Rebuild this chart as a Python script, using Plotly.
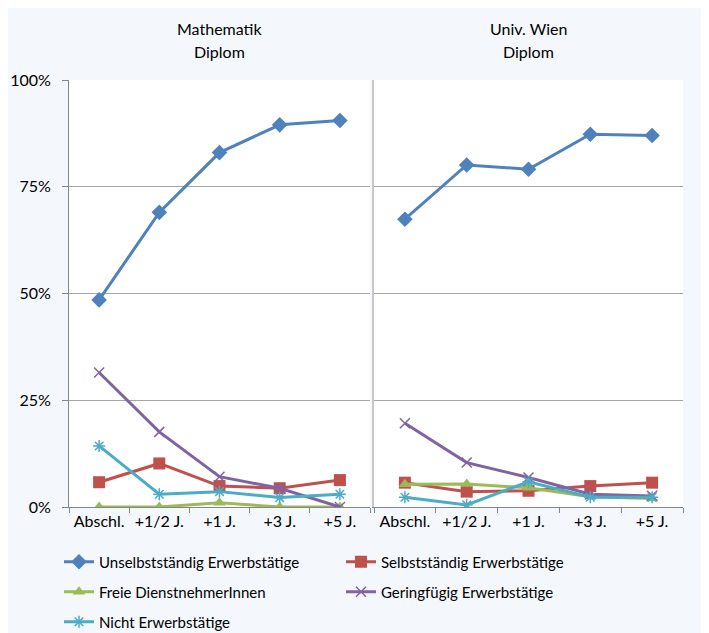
import plotly.graph_objects as go

categories = ["Abschl.", "+1/2 J.", "+1 J.", "+3 J.", "+5 J."]
panel_titles = [("Mathematik", "Diplom"), ("Univ. Wien", "Diplom")]
y_tick_vals = [0, 0.25, 0.5, 0.75, 1.0]
y_tick_text = ["0%", "25%", "50%", "75%", "100%"]

series_names = [
    "Unselbstständig Erwerbstätige",
    "Selbstständig Erwerbstätige",
    "Freie DienstnehmerInnen",
    "Geringfügig Erwerbstätige",
    "Nicht Erwerbstätige",
]

# Mathematik Diplom
math_unselbst = [0.485, 0.690, 0.830, 0.895, 0.905]
math_selbst = [0.058, 0.102, 0.049, 0.044, 0.063]
math_freie = [0.0, 0.0, 0.010, 0.0, 0.0]
math_gering = [0.315, 0.176, 0.071, 0.044, 0.0]
math_nicht = [0.143, 0.030, 0.036, 0.022, 0.030]

# Univ. Wien Diplom
wien_unselbst = [0.674, 0.801, 0.791, 0.873, 0.870]
wien_selbst = [0.057, 0.036, 0.038, 0.049, 0.057]
wien_freie = [0.053, 0.054, 0.045, 0.024, 0.020]
wien_gering = [0.196, 0.104, 0.069, 0.030, 0.026]
wien_nicht = [0.023, 0.005, 0.059, 0.023, 0.023]

colors = ["#4F81BD", "#C0504D", "#9BBB59", "#8064A2", "#4BACC6"]
symbols = ["diamond", "square", "triangle-up", "x-thin", "asterisk"]
msizes = [12, 12, 11, 10, 10]
legend_ids = ["legend", "legend", "legend2", "legend2", "legend3"]

panels = [
    [math_unselbst, math_selbst, math_freie, math_gering, math_nicht],
    [wien_unselbst, wien_selbst, wien_freie, wien_gering, wien_nicht],
]

FONT = "Lato"
fig = go.Figure()

for p, data in enumerate(panels):
    xa = "x" if p == 0 else "x2"
    ya = "y" if p == 0 else "y2"
    for i, vals in enumerate(data):
        lw = 1.5 if symbols[i] in ("x-thin", "asterisk") else 0
        fig.add_trace(go.Scatter(
            x=categories, y=vals, xaxis=xa, yaxis=ya,
            mode="lines+markers", name=series_names[i],
            line=dict(color=colors[i], width=3),
            marker=dict(symbol=symbols[i], size=msizes[i], color=colors[i],
                        line=dict(color=colors[i], width=lw)),
            showlegend=(p == 0), legend=legend_ids[i],
        ))

# page body has an 8px margin: figure coordinates = screen coordinates - 8
OFF = 8
W, H = 709 - OFF, 633 - OFF
ml = 69 - OFF
mt = 80 - OFF
mr = W - (683 - OFF)
mb = H - (507 - OFF)
pw = W - ml - mr
ph = H - mt - mb
split_l = (370 - 69) / pw
split_r = (374 - 69) / pw


def sy(py):
    """screen y pixel -> paper y"""
    return (507 - py) / ph


def sx(px):
    """screen x pixel -> paper x"""
    return (px - 69) / pw


grid = "#A6A6A6"
axcommon = dict(
    type="category", tickson="boundaries", ticks="outside", ticklen=5,
    tickcolor="#868686", showline=True, linecolor="#868686", linewidth=1,
    showgrid=False, tickangle=0,
    tickfont=dict(family=FONT, size=16, color="#000"),
    range=[-0.5, 4.5], fixedrange=True,
)
ycommon = dict(
    range=[0, 1.0], tickvals=y_tick_vals, showgrid=True, gridcolor=grid,
    gridwidth=1, zeroline=False, showline=True, fixedrange=True,
    tickfont=dict(family=FONT, size=16, color="#000"),
)

legend_common = dict(
    orientation="h", font=dict(family=FONT, size=15, color="#000"),
    bgcolor="rgba(0,0,0,0)", entrywidth=237, entrywidthmode="pixels",
    xanchor="left", yanchor="middle", itemwidth=30,
)

annotations = []
centers = [split_l / 2, (split_r + 1) / 2]
for p, (l1, l2) in enumerate(panel_titles):
    for j, txt in enumerate((l1, l2)):
        annotations.append(dict(
            text=txt, xref="paper", yref="paper", x=centers[p],
            y=sy(28 + 24 * j), xanchor="center", yanchor="middle",
            showarrow=False, font=dict(family=FONT, size=16, color="#000"),
        ))

fig.update_layout(
    width=W, height=H,
    margin=dict(l=ml, r=mr, t=mt, b=mb, pad=0, autoexpand=False),
    paper_bgcolor="#F4F7FC", plot_bgcolor="#FFFFFF",
    xaxis=dict(domain=[0, split_l], anchor="y", **axcommon),
    xaxis2=dict(domain=[split_r, 1], anchor="y2", **axcommon),
    yaxis=dict(anchor="x", ticks="outside", ticklen=6, tickcolor="#868686",
               linecolor="#868686", linewidth=1, ticktext=y_tick_text,
               ticklabelstandoff=8, **ycommon),
    yaxis2=dict(anchor="x2", showticklabels=False, ticks="",
                linecolor="#C8C8C8", linewidth=2, **ycommon),
    legend=dict(x=sx(59), y=sy(562), **legend_common),
    legend2=dict(x=sx(59), y=sy(592), **legend_common),
    legend3=dict(x=sx(59), y=sy(622), **legend_common),
    annotations=annotations,
    showlegend=True,
)

fig.write_html("out.html")
